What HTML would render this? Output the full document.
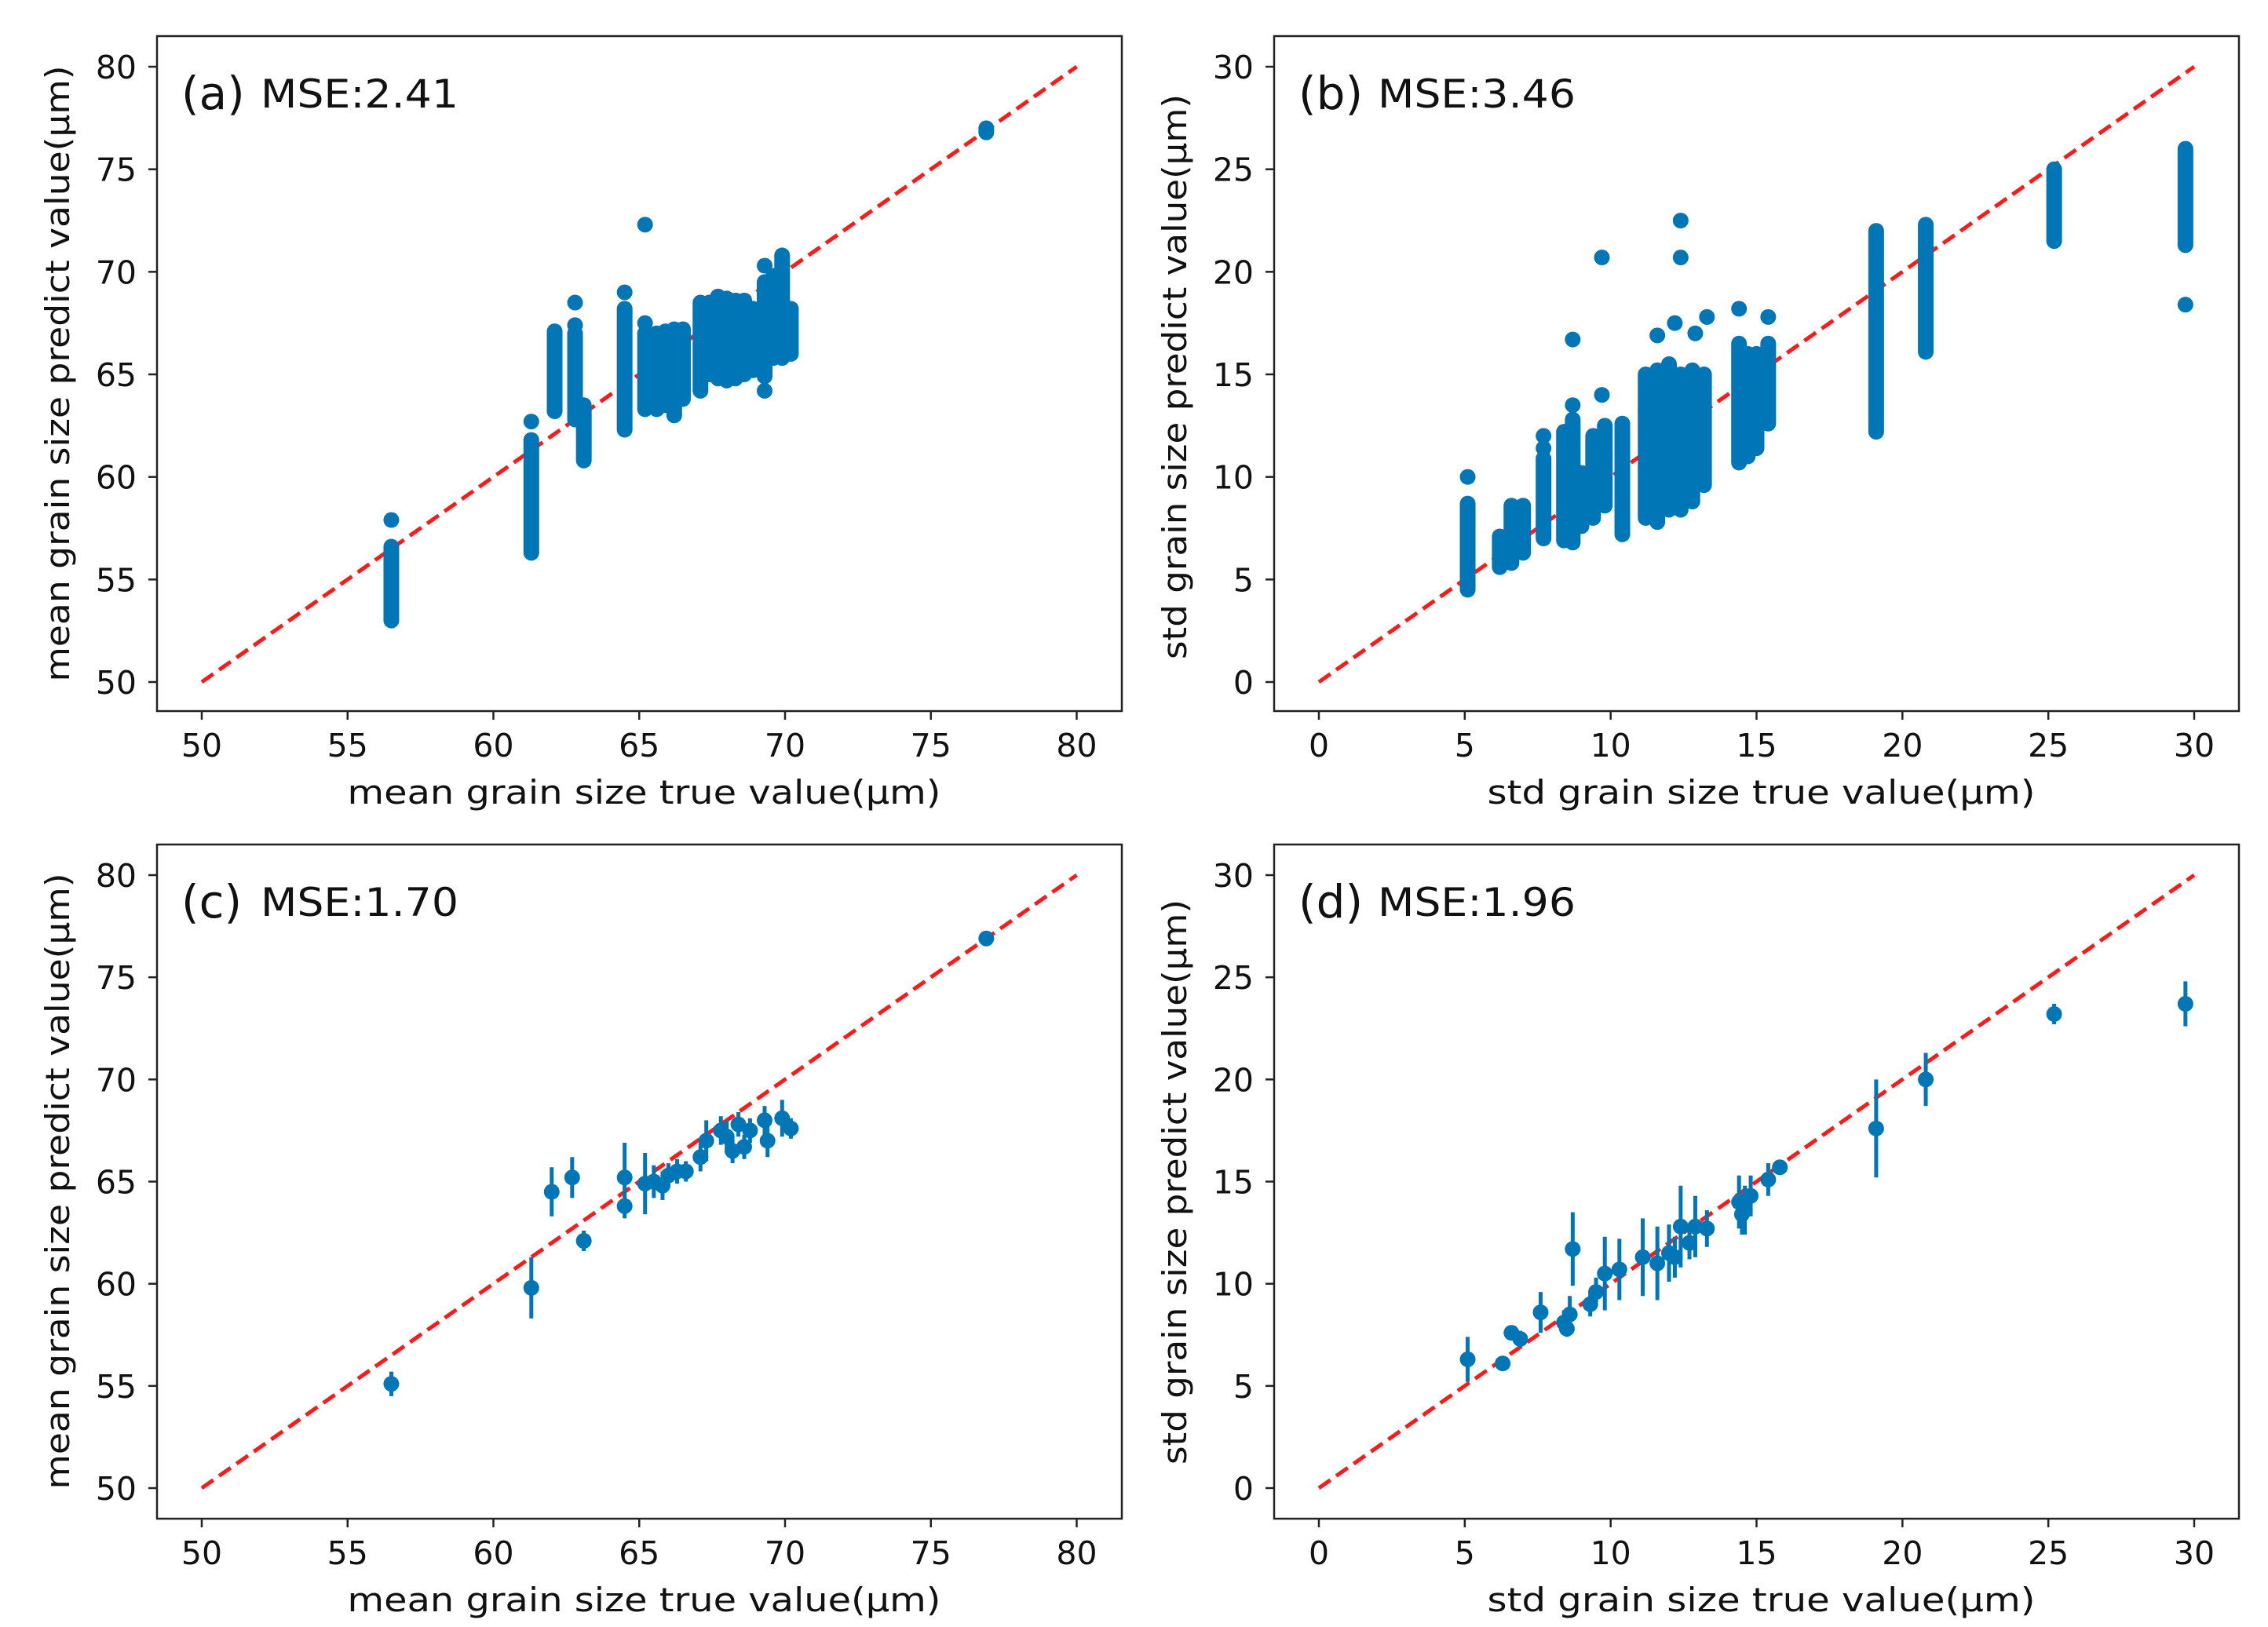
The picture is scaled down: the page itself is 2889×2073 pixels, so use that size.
<!DOCTYPE html>
<html><head><meta charset="utf-8"><style>
html,body{margin:0;padding:0;background:#fff;}
svg{display:block;}
text{font-family:"DejaVu Sans","Liberation Sans",sans-serif;fill:#111;}
</style></head><body>
<svg id="fig" width="2889" height="2073" viewBox="0 0 2889 2073" xmlns="http://www.w3.org/2000/svg"></svg>
<script>
// ---- data ----
const meanTicks = [50,55,60,65,70,75,80];
const stdTicks = [0,5,10,15,20,25,30];
// panel a: columns of predictions for each true mean value
const aColX  = [56.5,61.3,62.1,62.8,63.1,64.5,65.2,65.6,65.9,66.2,66.5,67.1,67.4,67.7,68.0,68.3,68.6,68.9,69.3,69.6,69.9,70.2,76.9];
const aColLo = [53.0,56.3,63.2,62.8,60.8,62.3,63.3,63.3,63.5,63.0,63.8,64.2,65.0,64.8,64.7,64.8,65.0,65.2,64.9,65.8,65.8,66.0,76.8];
const aColHi = [56.6,61.8,67.1,67.0,63.5,68.2,67.0,67.0,67.1,67.2,67.2,68.5,68.5,68.8,68.7,68.6,68.6,68.2,69.5,69.8,70.8,68.2,77.0];
const aOutX = [56.5,61.3,62.8,62.8,64.5,65.2,65.2,69.3,69.3];
const aOutY = [57.9,62.7,68.5,67.4,69.0,72.3,67.5,70.3,64.2];
// panel b: columns of predictions for each true std value
const bColX  = [5.1,6.2,6.6,7.0,7.7,8.4,8.7,9.0,9.4,9.8,10.4,11.2,11.6,12.0,12.4,12.8,13.2,14.4,14.7,15.0,15.4,19.1,20.8,25.2,29.7];
const bColLo = [4.5,5.6,5.8,6.3,7.0,6.9,6.8,7.6,8.0,8.6,7.2,8.0,7.8,8.4,8.4,8.8,9.6,10.7,11.0,11.4,12.6,12.2,16.1,21.5,21.3];
const bColHi = [8.7,7.1,8.6,8.6,10.9,12.2,12.8,10.2,12.0,12.5,12.6,15.0,15.2,15.5,15.0,15.2,15.0,16.5,16.0,16.0,16.5,22.0,22.3,25.0,26.0];
const bOutX = [5.1,7.7,7.7,8.7,8.7,9.7,9.7,9.8,11.2,11.6,12.2,12.4,12.4,12.9,13.3,14.4,15.4,29.7];
const bOutY = [10.0,11.4,12.0,16.7,13.5,20.7,14.0,11.0,13.2,16.9,17.5,22.5,20.7,17.0,17.8,18.2,17.8,18.4];
// panel c: mean with error bars
const cX = [56.5,61.3,62.0,62.7,63.1,64.5,64.5,65.2,65.5,65.8,66.0,66.3,66.6,67.1,67.3,67.8,68.0,68.2,68.4,68.6,68.8,69.3,69.4,69.9,70.2,76.9];
const cY = [55.1,59.8,64.5,65.2,62.1,65.2,63.8,64.9,65.0,64.8,65.3,65.5,65.5,66.2,67.0,67.5,67.2,66.5,67.8,66.7,67.5,68.0,67.0,68.1,67.6,76.9];
const cErr = [0.6,1.5,1.2,1.0,0.5,1.7,0.6,1.5,0.8,0.7,0.6,0.6,0.5,0.7,1.0,0.7,0.8,0.6,0.6,0.6,0.6,0.7,0.8,0.9,0.5,0.2];
// panel d: std with error bars
const dX = [5.1,6.3,6.6,6.9,7.6,8.4,8.5,8.6,8.7,9.3,9.5,9.8,10.3,11.1,11.6,12.0,12.2,12.4,12.7,12.9,13.3,14.4,14.5,14.6,14.8,15.4,15.8,19.1,20.8,25.2,29.7];
const dY = [6.3,6.1,7.6,7.3,8.6,8.1,7.8,8.5,11.7,9.0,9.6,10.5,10.7,11.3,11.0,11.5,11.3,12.8,12.0,12.8,12.7,14.0,13.4,13.6,14.3,15.1,15.7,17.6,20.0,23.2,23.7];
const dErr = [1.1,0.3,0.3,0.4,1.0,0.6,0.4,0.9,1.8,0.6,0.7,1.8,1.5,1.9,1.8,1.4,1.0,2.0,0.8,1.5,0.9,1.3,1.0,1.2,1.0,0.8,0.3,2.4,1.3,0.5,1.1];

const NS = "http://www.w3.org/2000/svg";
const svgEl = document.getElementById('fig');
const BLUE = "#0076b6";
function mk(tag, attrs, parent){
  const e = document.createElementNS(NS, tag);
  for (const k in attrs) e.setAttribute(k, attrs[k]);
  (parent||svgEl).appendChild(e);
  return e;
}
function panel(cfg){
  const g = mk('g', {});
  
  
  const v0 = cfg.range[0], v1 = cfg.range[1];
  const sx = v => cfg.px0 + (v - v0) / (v1 - v0) * (cfg.px1 - cfg.px0);
  const sy = v => cfg.py0 + (v - v0) / (v1 - v0) * (cfg.py1 - cfg.py0);
  const diag = mk('line', {x1:sx(v0), y1:sy(v0), x2:sx(v1), y2:sy(v1), stroke:'#ff1a1a', 'stroke-width':5, 'stroke-dasharray':'18 9'}, g);
  
  
  if (cfg.colX){
    for (let i=0;i<cfg.colX.length;i++){
      const c = mk('line', {x1:sx(cfg.colX[i]), x2:sx(cfg.colX[i]), y1:sy(cfg.colLo[i]), y2:sy(cfg.colHi[i]), stroke:BLUE, 'stroke-width':20, 'stroke-linecap':'round'}, g);
      
      
    }
    for (let i=0;i<cfg.outX.length;i++){
      const p = mk('circle', {cx:sx(cfg.outX[i]), cy:sy(cfg.outY[i]), r:10, fill:BLUE}, g);
      
      
    }
  }
  if (cfg.ptX){
    for (let i=0;i<cfg.ptX.length;i++){
      const eb = mk('line', {x1:sx(cfg.ptX[i]), x2:sx(cfg.ptX[i]), y1:sy(cfg.ptY[i]-cfg.ptE[i]), y2:sy(cfg.ptY[i]+cfg.ptE[i]), stroke:BLUE, 'stroke-width':5}, g);
      
      
      const p = mk('circle', {cx:sx(cfg.ptX[i]), cy:sy(cfg.ptY[i]), r:10, fill:BLUE}, g);
      
      
    }
  }
  const fr = mk('rect', {x:cfg.fx0, y:cfg.fy0, width:cfg.fx1-cfg.fx0, height:cfg.fy1-cfg.fy0, fill:'none', stroke:'#222', 'stroke-width':2.5}, g);
  
  
  cfg.ticks.forEach(t => {
    const X = sx(t);
    mk('line', {x1:X, x2:X, y1:cfg.fy1, y2:cfg.fy1+11, stroke:'#222', 'stroke-width':2.5}, g);
    const tl = mk('text', {x:X, y:cfg.fy1+58, 'font-size':41, 'text-anchor':'middle'}, g);
    tl.textContent = t;
    
    
    const Y = sy(t);
    mk('line', {x1:cfg.fx0-11, x2:cfg.fx0, y1:Y, y2:Y, stroke:'#222', 'stroke-width':2.5}, g);
    const yl = mk('text', {x:cfg.fx0-26, y:Y+15, 'font-size':41, 'text-anchor':'end'}, g);
    yl.textContent = t;
    
    
  });
  const xt = mk('text', {x:(cfg.fx0+cfg.fx1)/2+6, y:cfg.fy1+118, 'font-size':42, 'text-anchor':'middle', textLength:cfg.xLen, lengthAdjust:'spacingAndGlyphs'}, g);
  xt.textContent = cfg.xLabel;
  
  
  const yt = mk('text', {x:0, y:0, 'font-size':42, 'text-anchor':'middle', textLength:cfg.yLen, lengthAdjust:'spacingAndGlyphs', transform:'translate(' + cfg.yX + ',' + cfg.yCenter + ') rotate(-90)'}, g);
  yt.textContent = cfg.yLabel;
  
  
  const tag = mk('text', {x:cfg.fx0+31, y:cfg.fy0+93, 'font-size':58, 'font-family':'"Liberation Sans Narrow","Liberation Sans",sans-serif'}, g);
  tag.textContent = cfg.tag;
  
  
  const mse = mk('text', {x:cfg.fx0+132, y:cfg.fy0+91, 'font-size':50, textLength:252, lengthAdjust:'spacingAndGlyphs'}, g);
  mse.textContent = cfg.mse;
  
  
}
const topRow = {fy0:46, fy1:906, py0:869, py1:85};
const botRow = {fy0:1076, fy1:1935, py0:1896, py1:1115};
const leftCol = {fx0:200, fx1:1429, px0:257, px1:1371.5, range:[50,80], ticks:meanTicks, xLabel:'mean grain size true value(μm)', xLen:756, yLabel:'mean grain size predict value(μm)', yLen:785, yX:88};
const rightCol = {fx0:1623, fx1:2852, px0:1680, px1:2795, range:[0,30], ticks:stdTicks, xLabel:'std grain size true value(μm)', xLen:698, yLabel:'std grain size predict value(μm)', yLen:720, yX:1511};
panel(Object.assign({}, leftCol, topRow, {name:'panel-a', tag:'(a)', mse:'MSE:2.41', yCenter:476, colX:aColX, colLo:aColLo, colHi:aColHi, outX:aOutX, outY:aOutY}));
panel(Object.assign({}, rightCol, topRow, {name:'panel-b', tag:'(b)', mse:'MSE:3.46', yCenter:480, colX:bColX, colLo:bColLo, colHi:bColHi, outX:bOutX, outY:bOutY}));
panel(Object.assign({}, leftCol, botRow, {name:'panel-c', tag:'(c)', mse:'MSE:1.70', yCenter:1505, ptX:cX, ptY:cY, ptE:cErr}));
panel(Object.assign({}, rightCol, botRow, {name:'panel-d', tag:'(d)', mse:'MSE:1.96', yCenter:1506, ptX:dX, ptY:dY, ptE:dErr}));
</script>
</body></html>
